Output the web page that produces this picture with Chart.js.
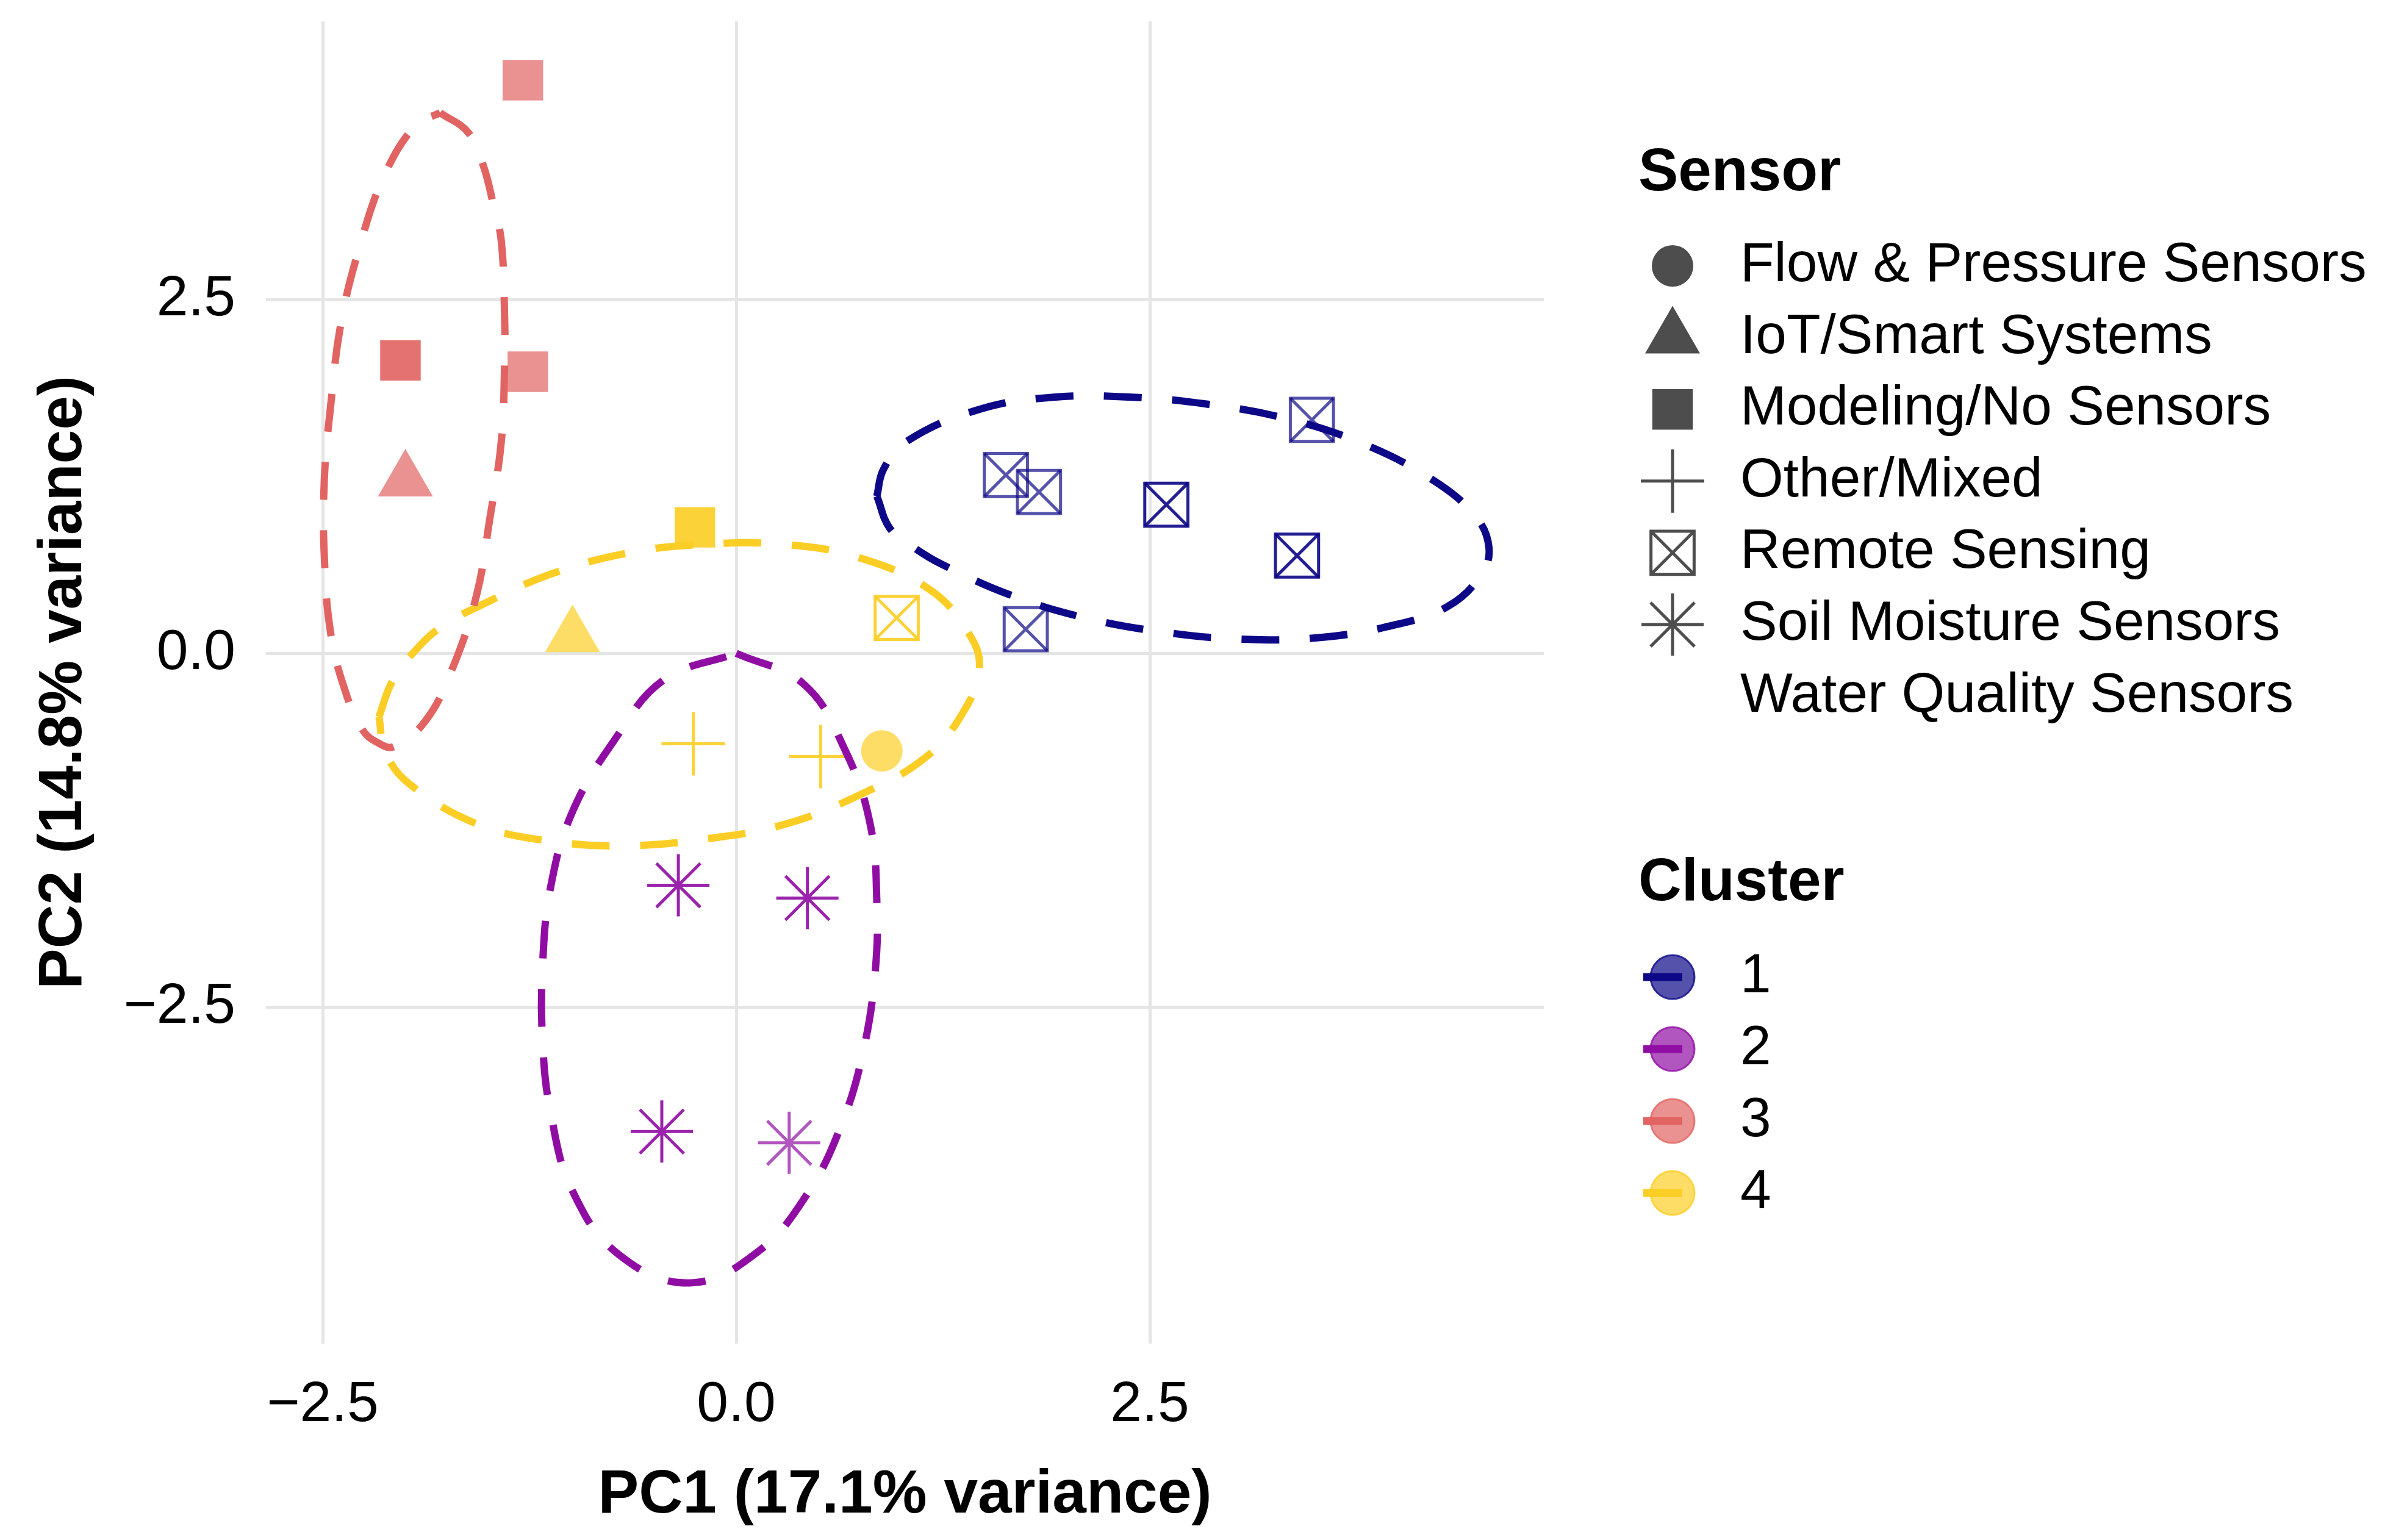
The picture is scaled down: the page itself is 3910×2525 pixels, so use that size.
<!DOCTYPE html>
<html>
<head>
<meta charset="utf-8">
<script src="https://cdn.jsdelivr.net/npm/chart.js@4.4.1/dist/chart.umd.min.js"></script>
<style>
  html, body { margin: 0; padding: 0; background: #fff; }
  #pca { display: block; }
</style>
</head>
<body>
<canvas id="pca" width="3910" height="2525"></canvas>
<script>
// PCA scores; count = how many studies sit on the same spot
const pc1     = [-1.29, -2.03, -1.26, -2.00, -0.25, -0.99, 0.97, -0.26, 0.51, 0.88, -0.35, 0.43, -0.45, 0.32, 1.63, 1.83, 2.60, 3.48, 3.39, 1.75];
const pc2     = [ 4.05,  2.07,  1.99,  1.22,  0.89,  0.12, 0.25, -0.64, -0.73, -0.69, -1.64, -1.73, -3.38, -3.46, 1.26, 1.14, 1.05, 1.65, 0.69, 0.17];
const cluster = [3, 3, 3, 3, 4, 4, 4, 4, 4, 4, 2, 2, 2, 2, 1, 1, 1, 1, 1, 1];
const sensor  = [2, 2, 2, 1, 2, 1, 4, 3, 3, 0, 5, 5, 5, 5, 4, 4, 4, 4, 4, 4];
const count   = [1, 2, 1, 1, 2, 1, 2, 2, 2, 1, 2, 2, 2, 1, 1, 1, 2, 1, 2, 1];

const sensorTypes = ['Flow & Pressure Sensors', 'IoT/Smart Systems', 'Modeling/No Sensors', 'Other/Mixed',
                     'Remote Sensing', 'Soil Moisture Sensors', 'Water Quality Sensors'];
const clusterIds = ['1', '2', '3', '4'];
const clusterColors = ['#0D0887', '#900DA4', '#E16462', '#FCCE25'];

const xTicks = [-2.5, 0, 2.5];
const yTicks = [-2.5, 0, 2.5];

// cluster ellipse outlines
const ellipse1 = [[0.85,1.11],[0.93,0.88],[1.07,0.75],[1.24,0.63],[1.66,0.41],[2.11,0.25],[2.58,0.15],[3.05,0.10],[3.52,0.11],[3.98,0.20],[4.30,0.33],[4.50,0.55],[4.55,0.75],[4.46,0.98],[4.19,1.24],[3.77,1.49],[3.32,1.66],[2.85,1.76],[2.39,1.81],[1.92,1.81],[1.46,1.72],[1.02,1.49],[0.89,1.30],[0.85,1.11]];
const ellipse2 = [[0.00,0.00],[0.41,-0.22],[0.66,-0.69],[0.81,-1.21],[0.85,-1.76],[0.84,-2.25],[0.77,-2.80],[0.64,-3.32],[0.43,-3.82],[0.13,-4.23],[-0.28,-4.45],[-0.71,-4.25],[-0.99,-3.80],[-1.12,-3.26],[-1.17,-2.76],[-1.17,-2.19],[-1.12,-1.64],[-0.99,-1.12],[-0.74,-0.62],[-0.44,-0.19],[0.00,0.00]];
const ellipse3 = [[-1.79,3.82],[-1.62,3.68],[-1.53,3.45],[-1.47,3.18],[-1.42,2.91],[-1.40,2.36],[-1.40,2.06],[-1.42,1.50],[-1.49,0.95],[-1.57,0.41],[-1.72,-0.12],[-1.88,-0.48],[-2.07,-0.66],[-2.17,-0.63],[-2.26,-0.54],[-2.36,-0.28],[-2.45,0.13],[-2.49,0.68],[-2.49,1.23],[-2.45,1.77],[-2.39,2.33],[-2.28,2.86],[-2.13,3.37],[-1.94,3.73],[-1.79,3.82]];
const ellipse4 = [[-2.16,-0.45],[-2.08,-0.20],[-1.94,0.02],[-1.78,0.19],[-1.56,0.33],[-1.12,0.56],[-0.65,0.71],[-0.19,0.77],[0.28,0.77],[0.73,0.68],[1.17,0.45],[1.40,0.15],[1.47,-0.10],[1.37,-0.42],[1.14,-0.74],[0.73,-1.01],[0.29,-1.21],[-0.17,-1.31],[-0.64,-1.36],[-1.11,-1.33],[-1.56,-1.21],[-1.98,-0.92],[-2.12,-0.70],[-2.16,-0.45]];
const ellipses = [ellipse1, ellipse2, ellipse3, ellipse4];

const FONT = "'Liberation Sans', Arial, sans-serif";
Chart.defaults.font.family = FONT;

function rgba(hex, a) {
  const n = parseInt(hex.slice(1), 16);
  return 'rgba(' + (n >> 16) + ',' + ((n >> 8) & 255) + ',' + (n & 255) + ',' + a + ')';
}
// alpha 0.7 per point, stacked points get darker
function pointColor(i) {
  return rgba(clusterColors[cluster[i] - 1], (1 - Math.pow(0.3, count[i])).toFixed(3));
}

// marker look for each sensor type
const markers = [
  { style: 'circle',   radius: 34, filled: true },
  { style: 'triangle', radius: 52, filled: true },
  { style: 'rect',     radius: 47, filled: true },
  { style: 'cross',    radius: 52, filled: false },
  { style: 'box',      radius: 50, filled: false },
  { style: 'star',     radius: 51, filled: false },
];

const datasets = [];
markers.forEach((m, s) => {
  const idx = pc1.map((_, i) => i).filter(i => sensor[i] === s);
  if (!idx.length) return;
  const styles = m.style === 'box' ? ['rect', 'crossRot'] : [m.style];
  styles.forEach(st => {
    datasets.push({
      label: sensorTypes[s],
      data: idx.map(i => ({ x: pc1[i], y: pc2[i] })),
      pointStyle: st,
      pointRadius: m.radius,
      pointBackgroundColor: m.filled ? idx.map(pointColor) : 'rgba(0,0,0,0)',
      pointBorderColor: idx.map(pointColor),
      pointBorderWidth: m.filled ? 0 : 5,
      showLine: false,
      order: 1
    });
  });
});

ellipses.forEach((e, k) => {
  datasets.push({
    type: 'line',
    label: 'ellipse ' + clusterIds[k],
    data: e.map(p => ({ x: p[0], y: p[1] })),
    borderColor: clusterColors[k],
    borderWidth: 12,
    borderDash: [62, 50],
    pointRadius: 0,
    tension: 0.4,
    fill: false,
    order: 0
  });
});

const fmtTick = v => (v < 0 ? '\u2212' : '') + Math.abs(v).toFixed(1);

// two-part legend drawn to the right of the panel
const legendPlugin = {
  id: 'pcaLegend',
  afterDraw(chart) {
    const ctx = chart.ctx;
    const keyX = 2742, textX = 2853, titleX = 2686;
    ctx.save();
    ctx.textBaseline = 'middle';
    ctx.textAlign = 'left';
    ctx.fillStyle = '#000';
    ctx.font = 'bold 98px ' + FONT;
    ctx.fillText('Sensor', titleX, 285);

    sensorTypes.forEach((name, s) => {
      const y = 436 + s * 117.6;
      const m = markers[s];
      if (m) {
        ctx.fillStyle = m.filled ? '#4D4D4D' : 'rgba(0,0,0,0)';
        ctx.strokeStyle = '#4D4D4D';
        ctx.lineWidth = 5;
        const styles = m.style === 'box' ? ['rect', 'crossRot'] : [m.style];
        styles.forEach(st => Chart.helpers.drawPoint(ctx, {
          pointStyle: st, radius: m.radius, rotation: 0, borderWidth: m.filled ? 0 : 5
        }, keyX, y));
      }
      ctx.fillStyle = '#000';
      ctx.font = '91px ' + FONT;
      ctx.fillText(name, textX, y);
    });

    ctx.font = 'bold 98px ' + FONT;
    ctx.fillText('Cluster', titleX, 1449);
    clusterIds.forEach((id, k) => {
      const y = 1602 + k * 118;
      ctx.beginPath();
      ctx.arc(keyX, y, 36, 0, Math.PI * 2);
      ctx.fillStyle = rgba(clusterColors[k], 0.7);
      ctx.fill();
      ctx.lineWidth = 3;
      ctx.strokeStyle = rgba(clusterColors[k], 0.8);
      ctx.stroke();
      ctx.beginPath();
      ctx.moveTo(2694, y);
      ctx.lineTo(2758, y);
      ctx.lineWidth = 13;
      ctx.strokeStyle = clusterColors[k];
      ctx.stroke();
      ctx.fillStyle = '#000';
      ctx.font = '91px ' + FONT;
      ctx.fillText(id, textX, y);
    });
    ctx.restore();
  }
};

new Chart(document.getElementById('pca'), {
  type: 'scatter',
  data: { datasets: datasets },
  options: {
    responsive: false,
    devicePixelRatio: 1,
    animation: false,
    events: [],
    layout: { autoPadding: false, padding: { left: 0, top: 35, right: 1379, bottom: 0 } },
    plugins: {
      legend: { display: false },
      tooltip: { enabled: false }
    },
    scales: {
      x: {
        type: 'linear',
        min: -2.843,
        max: 4.882,
        afterBuildTicks: s => { s.ticks = xTicks.map(v => ({ value: v })); },
        afterFit: s => { s.height = 322; s.paddingLeft = 0; s.paddingRight = 0; },
        grid: { color: '#E5E5E5', lineWidth: 5, drawTicks: false },
        border: { display: false },
        ticks: { color: '#000', font: { size: 93 }, padding: 46, maxRotation: 0, callback: fmtTick },
        title: {
          display: true,
          text: 'PC1 (17.1% variance)',
          color: '#000',
          font: { size: 100, weight: 'bold' },
          padding: { top: 0, bottom: 13 }
        }
      },
      y: {
        type: 'linear',
        min: -4.879,
        max: 4.466,
        afterBuildTicks: s => { s.ticks = yTicks.map(v => ({ value: v })); },
        afterFit: s => { s.width = 436; s.paddingTop = 0; s.paddingBottom = 0; },
        grid: { color: '#E5E5E5', lineWidth: 5, drawTicks: false },
        border: { display: false },
        ticks: { color: '#000', font: { size: 93 }, padding: 50, callback: fmtTick },
        title: {
          display: true,
          text: 'PC2 (14.8% variance)',
          color: '#000',
          font: { size: 100, weight: 'bold' },
          padding: { top: 45, bottom: 0 }
        }
      }
    }
  },
  plugins: [legendPlugin]
});
</script>
</body>
</html>
